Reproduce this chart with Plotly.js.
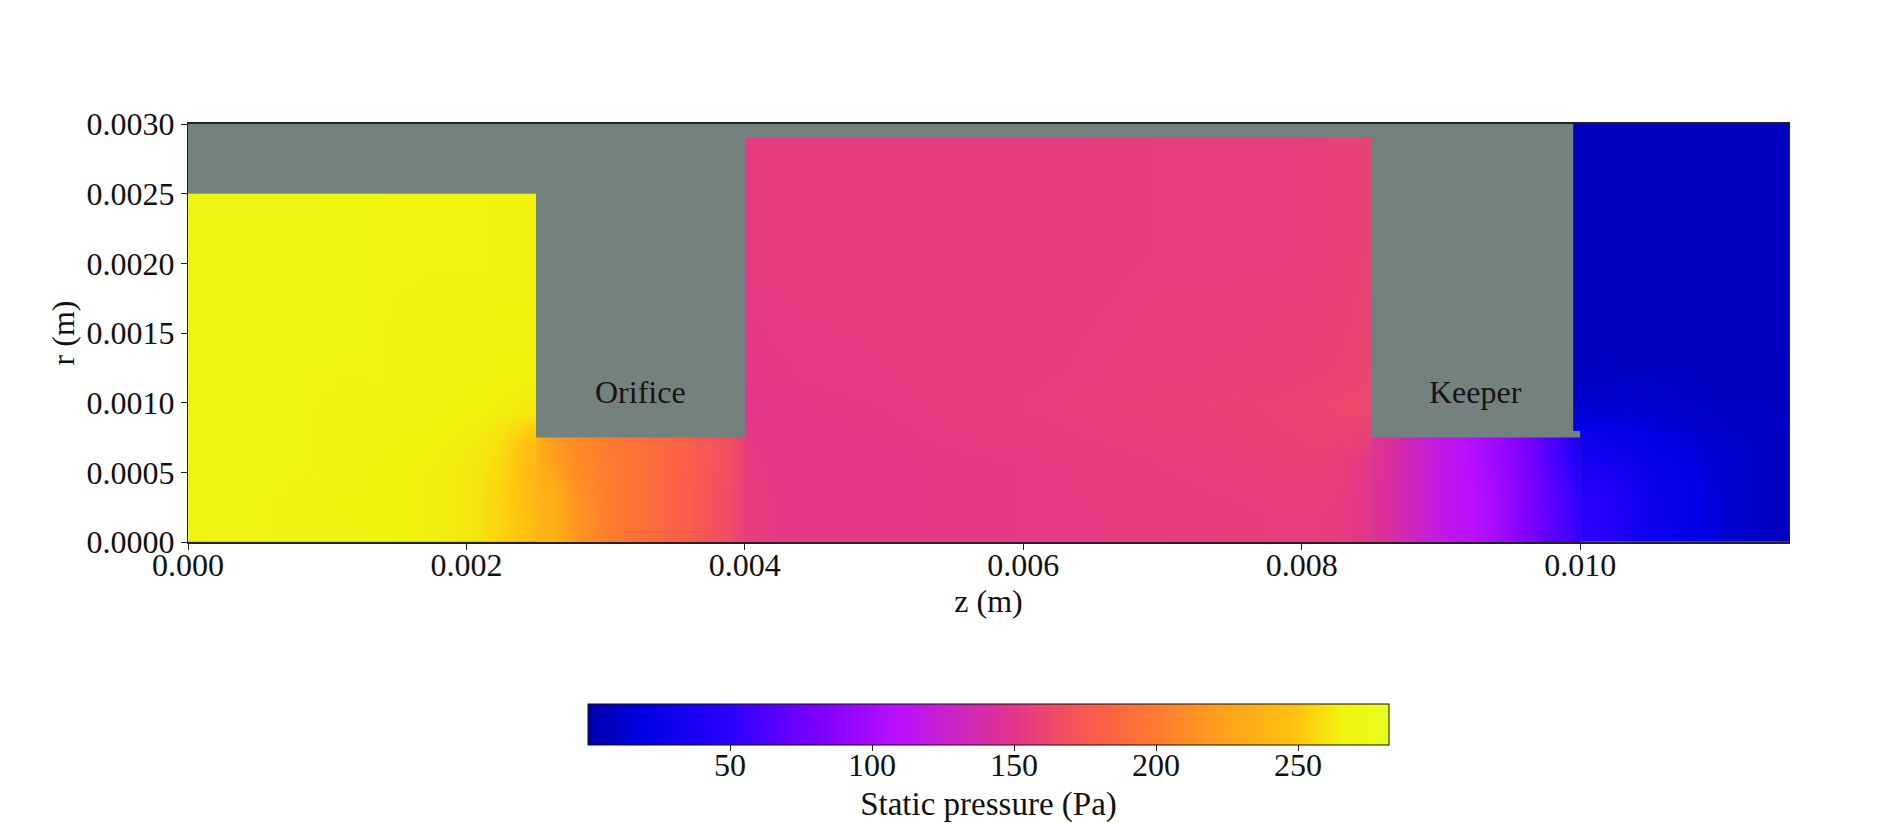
<!DOCTYPE html>
<html>
<head>
<meta charset="utf-8">
<script src="https://cdn.plot.ly/plotly-3.0.1.min.js"></script>
<style>html,body{margin:0;padding:0;background:#fff}#chart{width:1882px;height:824px}</style>
</head>
<body>
<div id="chart"></div>
<script>
// Colour scale stops (Pa -> colour)
const scaleValues = [0, 8, 20, 50, 80, 110, 125, 150, 165, 180, 200, 225, 250, 265, 282];
const scaleColors = ['#0000b0','#0000c0','#0000e6','#2c00ff','#7a00ff','#bb10ff','#c820d0','#e2368a','#ef4d66','#fa5f48','#ff7a30','#ffa31a','#ffc50f','#f1f20e','#e6ff22'];

// Cathode cavity
const cathodeZ = [0, 0.0006, 0.0012, 0.0016, 0.0019, 0.0021, 0.0022, 0.0023, 0.0024, 0.00248, 0.0025];
const cathodeR = [0, 0.0002, 0.0004, 0.0006, 0.0008, 0.0010, 0.0014, 0.0025];
const cathodeP = [
  [268, 266, 265, 264, 262, 258, 255, 251, 246, 240],
  [268, 266, 265, 264, 262, 258, 255, 250, 244, 240],
  [268, 267, 265, 264, 262, 259, 256, 250, 243, 240],
  [268, 267, 266, 265, 263, 261, 258, 252, 246, 244],
  [268, 267, 266, 266, 265, 264, 263, 262, 260, 260],
  [268, 267, 267, 266, 266, 266, 265, 265, 265, 265],
  [268, 268, 267, 267, 267, 267, 266, 266, 266, 266]
];

// Orifice channel
const orificeZ = [0.0025, 0.00252, 0.0027, 0.0029, 0.0031, 0.0033, 0.0035, 0.0037, 0.0039, 0.00398, 0.0040];
const orificeR = [0, 0.00025, 0.0005, 0.00075];
const orificeP = [
  [240, 236, 216, 203, 194, 186, 178, 168, 160, 156],
  [240, 234, 214, 203, 194, 186, 178, 168, 160, 156],
  [240, 222, 210, 201, 194, 187, 179, 170, 162, 156]
];

// Insert region
const insertZ = [0.0040, 0.00402, 0.0042, 0.0046, 0.0055, 0.0065, 0.0075, 0.0080, 0.0083, 0.00848, 0.0085];
const insertR = [0, 0.0004, 0.00075, 0.0012, 0.0029];
const insertP = [
  [156, 154, 152, 152, 153, 154, 155, 155, 152, 147],
  [156, 153, 151, 152, 153, 155, 157, 158, 154, 147],
  [150, 150, 152, 153, 155, 157, 159, 161, 162, 162],
  [154, 154, 154, 154, 154, 155, 155, 156, 158, 160]
];

// Keeper channel
const keeperZ = [0.0085, 0.00852, 0.0087, 0.0089, 0.0091, 0.0093, 0.0095, 0.0097, 0.0099, 0.00998, 0.0100];
const keeperR = [0, 0.00025, 0.0005, 0.00075];
const keeperP = [
  [147, 144, 130, 118, 111, 100, 84, 68, 56, 50],
  [147, 144, 130, 118, 110, 99, 84, 67, 53, 48],
  [147, 145, 130, 118, 108, 96, 82, 62, 44, 38]
];

// Plume below the keeper tip
const plumeLowZ = [0.0100, 0.01002, 0.0103, 0.0106, 0.0109, 0.0112, 0.0115];
const plumeLowR = [0, 0.0002, 0.0004, 0.0006, 0.00079, 0.0008];
const plumeLowP = [
  [50, 48, 31, 23, 14, 8],
  [48, 46, 30, 23, 14, 8],
  [40, 38, 29, 21, 13, 8],
  [30, 29, 23, 17, 12, 8],
  [26, 25, 21, 15, 11, 8]
];

// Plume beyond the keeper face
const plumeHighZ = [0.00995, 0.0101, 0.0104, 0.0107, 0.0115];
const plumeHighR = [0.0008, 0.00082, 0.0010, 0.0012, 0.0015, 0.0030];
const plumeHighP = [
  [24, 22, 17, 10],
  [17, 16, 14, 9],
  [10, 11, 11, 8],
  [7, 8, 8, 8],
  [7, 7, 7, 7]
];

// Axis and text
const xTicks = [0, 0.002, 0.004, 0.006, 0.008, 0.010];
const yTicks = [0, 0.0005, 0.0010, 0.0015, 0.0020, 0.0025, 0.0030];
const barTicks = [50, 100, 150, 200, 250];
const labelNames = ['Orifice', 'Keeper'];
const labelZ = [0.00325, 0.00925];
const labelR = [0.00108, 0.00108];

const pressureMin = scaleValues[0];
const pressureMax = scaleValues[scaleValues.length - 1];
const colorscale = scaleValues.map((v, i) => [(v - pressureMin) / (pressureMax - pressureMin), scaleColors[i]]);

const SERIF = '"Liberation Serif", serif';
const TEXT = '#111111';

const regions = [
  [cathodeZ, cathodeR, cathodeP],
  [orificeZ, orificeR, orificeP],
  [insertZ, insertR, insertP],
  [keeperZ, keeperR, keeperP],
  [plumeLowZ, plumeLowR, plumeLowP],
  [plumeHighZ, plumeHighR, plumeHighP]
];

const data = regions.map(([x, y, z]) => ({
  type: 'heatmap', x, y, z, coloraxis: 'coloraxis', zsmooth: 'best', hoverinfo: 'skip'
}));

const axisBase = {
  showgrid: false, zeroline: false, showline: true, mirror: true,
  linecolor: '#222222', linewidth: 1, ticks: 'outside', ticklen: 6, tickwidth: 1,
  tickcolor: '#222222', automargin: false,
  tickfont: {family: SERIF, size: 32, color: TEXT}
};

const layout = {
  width: 1882, height: 824,
  margin: {l: 188, r: 93, t: 124, b: 282, pad: 0, autoexpand: false},
  paper_bgcolor: '#ffffff',
  plot_bgcolor: '#74827f',
  font: {family: SERIF, color: TEXT},
  showlegend: false,
  xaxis: Object.assign({}, axisBase, {
    range: [0, 0.0115], tickvals: xTicks, tickformat: '.3f', linewidth: 2, ticklabelstandoff: -12,
    title: {text: 'z (m)', font: {family: SERIF, size: 32, color: TEXT}, standoff: 1}
  }),
  yaxis: Object.assign({}, axisBase, {
    range: [0, 0.003], tickvals: yTicks, tickformat: '.4f',
    title: {text: 'r (m)', font: {family: SERIF, size: 32, color: TEXT}, standoff: 2}
  }),
  coloraxis: {
    cmin: pressureMin, cmax: pressureMax, colorscale,
    colorbar: {
      orientation: 'h', lenmode: 'pixels', len: 801, thickness: 41,
      thicknessmode: 'pixels', x: 0.5, xanchor: 'center', xref: 'paper',
      y: -0.387, yanchor: 'top', yref: 'paper', xpad: 0, ypad: 0,
      outlinecolor: '#111111', outlinewidth: 1,
      tickvals: barTicks, ticks: 'outside', ticklen: 6, tickcolor: '#222222',
      tickfont: {family: SERIF, size: 32, color: TEXT},
      title: {text: 'Static pressure (Pa)', side: 'bottom', font: {family: SERIF, size: 33, color: TEXT}}
    }
  },
  annotations: labelNames.map((t, i) => ({
    x: labelZ[i], y: labelR[i], xref: 'x', yref: 'y', text: t, showarrow: false,
    font: {family: SERIF, size: 32, color: '#141414'}
  }))
};

Plotly.newPlot('chart', data, layout, {displayModeBar: false, staticPlot: true}).then(() => {
  // Lift the colour bar's labels to sit as tightly under it as in the reference.
  const lift = (sel, dy) => document.querySelectorAll(sel).forEach(el => {
    el.setAttribute('y', (parseFloat(el.getAttribute('y')) || 0) - dy);
  });
  lift('.colorbar .cbaxis text', 13);
  lift('.colorbar .cbtitle text', 12);
});
</script>
</body>
</html>
